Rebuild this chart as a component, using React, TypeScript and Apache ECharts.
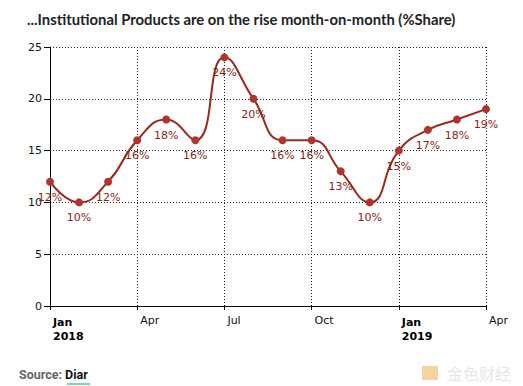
import React, { useEffect, useRef } from "react";
import * as echarts from "echarts";

const months = ["Jan 2018", "Feb", "Mar", "Apr", "May", "Jun", "Jul", "Aug", "Sep", "Oct", "Nov", "Dec", "Jan 2019", "Feb", "Mar", "Apr"];
const shareValues = [12, 10, 12, 16, 18, 16, 24, 20, 16, 16, 13, 10, 15, 17, 18, 19];
const tickLabels: Record<number, string> = { 0: "Jan|2018", 3: "Apr", 6: "Jul", 9: "Oct", 12: "Jan|2019", 15: "Apr" };

export default function App() {
  const ref = useRef<HTMLDivElement>(null);
  useEffect(() => {
    if (!ref.current) return;
    const chart = echarts.init(ref.current, null, { renderer: "svg" });
    const font = "DejaVu Sans";
    chart.setOption({
      animation: false,
      backgroundColor: "#fff",
      title: {
        text: "...Institutional Products are on the rise month-on-month (%Share)",
        left: 22,
        top: 6,
        textStyle: { fontFamily: "Lato", fontWeight: "bold", fontSize: 14.8, color: "#222" },
      },
      grid: { left: 50, right: 37, top: 47, bottom: 80 },
      xAxis: {
        type: "value",
        min: 0,
        max: 15,
        interval: 3,
        axisLine: { show: true, lineStyle: { color: "#000", width: 1 } },
        axisTick: { show: true, length: 4, lineStyle: { color: "#000" } },
        splitLine: { show: true, lineStyle: { type: [1, 2], color: "#222" } },
        axisLabel: {
          align: "left",
          margin: 9,
          padding: [0, 0, 0, 3],
          fontFamily: font,
          fontSize: 11,
          color: "#111",
          formatter: (v: number) => {
            const t = tickLabels[v];
            if (!t) return "";
            if (t.includes("|")) {
              const [m, y] = t.split("|");
              return `{b|${m}}\n{b|${y}}`;
            }
            return t;
          },
          rich: { b: { fontFamily: font, fontSize: 11, fontWeight: "bold", color: "#000", lineHeight: 14 } },
        },
      },
      yAxis: {
        type: "value",
        min: 0,
        max: 25,
        interval: 5,
        axisLine: { show: true, lineStyle: { color: "#000", width: 1 } },
        axisTick: { show: true, length: 6, lineStyle: { color: "#000" } },
        splitLine: { show: true, lineStyle: { type: [1, 2], color: "#222" } },
        axisLabel: { fontFamily: font, fontSize: 11, color: "#111", margin: 8 },
      },
      series: [
        {
          type: "line",
          name: "Share",
          smooth: 0.5,
          data: shareValues.map((v, i) => [i, v]),
          symbol: "circle",
          symbolSize: 8,
          itemStyle: { color: "#b0342a" },
          lineStyle: { color: "#9a2a20", width: 2 },
          label: {
            show: true,
            position: "bottom",
            distance: 6,
            fontFamily: font,
            fontSize: 11,
            color: "#8b1e16",
            formatter: (p: any) => `${p.value[1]}%`,
          },
        },
      ],
      graphic: [
        {
          type: "text",
          left: 19,
          top: 368,
          style: {
            text: "{g|Source: }{d|Diar}",
            rich: {
              g: { fontFamily: "Roboto", fontSize: 12.5, fontWeight: "bold", fill: "#666" },
              d: { fontFamily: "Roboto", fontSize: 12.5, fontWeight: "bold", fill: "#111" },
            },
          },
        },
        { type: "rect", shape: { x: 67, y: 383, width: 23, height: 2 }, style: { fill: "#7fd6a6" } },
        { type: "rect", shape: { x: 422, y: 366, width: 16, height: 14 }, style: { fill: "#f1c98a", opacity: 0.8 } },
        {
          type: "text",
          left: 447,
          top: 365,
          style: { text: "金色财经", fontFamily: "Noto Sans CJK SC", fontSize: 16, fill: "#e6e6e6" },
        },
      ],
    });
    return () => chart.dispose();
  }, []);
  return <div ref={ref} style={{ position: "absolute", left: 0, top: 0, width: 523, height: 386 }} />;
}
